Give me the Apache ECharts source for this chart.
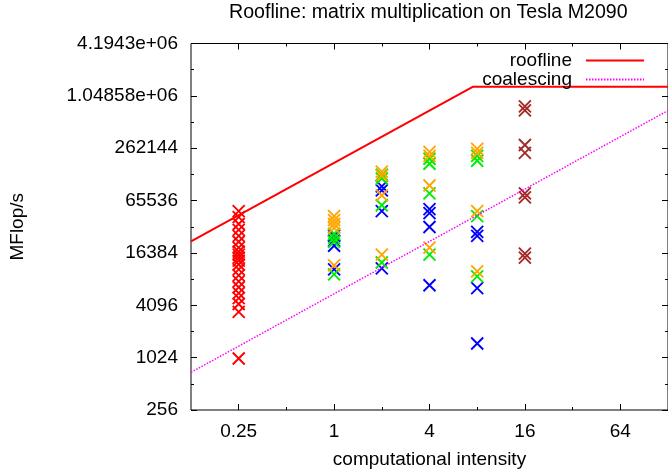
<!DOCTYPE html>
<html><head><meta charset="utf-8">
<script src="https://cdn.jsdelivr.net/npm/echarts@6/dist/echarts.min.js"></script>
<style>html,body{margin:0;padding:0;background:#fff}#c{width:668px;height:474px}</style>
</head><body><div id="c"></div>
<script>
// ---- tick definitions ----
const xTickValues = [0.25, 1, 4, 16, 64];
const xTickLabels = ['0.25', '1', '4', '16', '64'];
const xMinorValues = [0.5, 2, 8, 32];
const yTickValues = [256, 1024, 4096, 16384, 65536, 262144, 1048576, 4194304];
const yTickLabels = ['256', '1024', '4096', '16384', '65536', '262144', '1.04858e+06', '4.1943e+06'];
const yMinorValues = [512, 2048, 8192, 32768, 131072, 524288, 2097152];
const xRange = [0.125, 128];
const yRange = [256, 4194304];

// ---- lines ----
const roofline = [[0.125, 22200], [7.494, 1331000], [128, 1331000]];
const coalescing = [[0.125, 693.75], [128, 710400]];

// ---- measured points [intensity, MFlop/s] ----
const redPts = [[0.25, 49500], [0.25, 42340], [0.25, 35260], [0.25, 30130], [0.25, 25770], [0.25, 22020],
  [0.25, 18820], [0.25, 16950], [0.25, 15670], [0.25, 14490], [0.25, 13390], [0.25, 12060], [0.25, 10590],
  [0.25, 9050], [0.25, 7730], [0.25, 6610], [0.25, 5650], [0.25, 4957], [0.25, 4237], [0.25, 3437], [0.25, 1000]];
const bluePts = [[1, 25770], [1, 22600], [1, 19830], [1, 10590],
  [2, 95300], [2, 85830], [2, 49540], [2, 10870],
  [4, 52200], [4, 47020], [4, 32590], [4, 6965],
  [8, 28610], [8, 25770], [8, 6443], [8, 1489]];
const greenPts = [[1, 27150], [1, 24440], [1, 22020], [1, 9290],
  [2, 130300], [2, 117500], [2, 57970], [2, 12710],
  [4, 198200], [4, 173900], [4, 79300], [4, 15670],
  [8, 214300], [8, 188100], [8, 43480], [8, 8815]];
const orangePts = [[1, 43480], [1, 39100], [1, 35260], [1, 31770], [1, 11760],
  [2, 141000], [2, 127100], [2, 75300], [2, 15670],
  [4, 237900], [4, 214300], [4, 97770], [4, 18820],
  [8, 257400], [8, 231900], [8, 49540], [8, 10045]];
const brownPts = [[16, 792700], [16, 714000], [16, 285700], [16, 231900], [16, 79300], [16, 71430], [16, 16090], [16, 14490]];

const L2 = v => Math.log2(v);
const tr = pts => pts.map(p => [L2(p[0]), L2(p[1])]);
const FONT = '"Liberation Sans", Arial, Helvetica, sans-serif';
const lookup = (vals, labels) => v => {
  for (let i = 0; i < vals.length; i++) if (Math.abs(L2(vals[i]) - v) < 1e-6) return labels[i];
  return '';
};

function xAxisDef(pos, values, len, labels, name) {
  return {
    type: 'value', position: pos, min: L2(xRange[0]), max: L2(xRange[1]),
    axisLine: { show: false, onZero: false },
    axisTick: { show: true, inside: true, length: len, customValues: values.map(L2), lineStyle: { color: '#000', width: 1 } },
    axisLabel: labels ? { show: true, customValues: values.map(L2), formatter: lookup(values, labels), margin: 12, color: '#000', fontSize: 19, fontFamily: FONT } : { show: false },
    splitLine: { show: false },
    name: name || '', nameLocation: 'middle', nameGap: 40,
    nameTextStyle: { color: '#000', fontSize: 19, fontFamily: FONT }
  };
}
function yAxisDef(pos, values, len, labels, name) {
  return {
    type: 'value', position: pos, min: L2(yRange[0]), max: L2(yRange[1]),
    axisLine: { show: false, onZero: false },
    axisTick: { show: true, inside: true, length: len, customValues: values.map(L2), lineStyle: { color: '#000', width: 1 } },
    axisLabel: labels ? { show: true, customValues: values.map(L2), formatter: lookup(values, labels), margin: 13, color: '#000', fontSize: 19, fontFamily: FONT } : { show: false },
    splitLine: { show: false },
    name: name || '', nameLocation: 'middle', nameGap: 164,
    nameTextStyle: { color: '#000', fontSize: 19, fontFamily: FONT }
  };
}

const xSym = 'path://M0,0L12,12M12,0L0,12';
function pts(name, data, color) {
  return {
    type: 'scatter', name: name, data: tr(data), symbol: xSym, symbolSize: 12, z: 2,
    itemStyle: { color: 'rgba(0,0,0,0)', borderColor: color, borderWidth: 1.9, opacity: 1 },
    emphasis: { disabled: true }
  };
}

const chart = echarts.init(document.getElementById('c'), null, { renderer: 'canvas' });
chart.setOption({
  animation: false,
  backgroundColor: '#fff',
  title: {
    text: 'Roofline: matrix multiplication on Tesla M2090', left: 229, top: 3, padding: 0,
    textStyle: { fontSize: 19.6, fontWeight: 'normal', color: '#000', fontFamily: FONT }
  },
  legend: {
    data: ['roofline', 'coalescing'], orient: 'vertical', align: 'right', right: 23, top: 51,
    itemWidth: 58, itemHeight: 10, itemGap: 0, padding: 0,
    itemStyle: { opacity: 0 },
    textStyle: { fontSize: 19, color: '#000', fontFamily: FONT, padding: [0, 9, 0, 0] }
  },
  grid: { show: true, left: 190.5, top: 43.5, width: 479, height: 371, containLabel: false,
    borderColor: '#000', borderWidth: 1, backgroundColor: 'rgba(0,0,0,0)' },
  xAxis: [
    xAxisDef('bottom', xTickValues, 6, xTickLabels, 'computational intensity'),
    xAxisDef('bottom', xMinorValues, 3),
    xAxisDef('top', xTickValues, 6),
    xAxisDef('top', xMinorValues, 3)
  ],
  yAxis: [
    yAxisDef('left', yTickValues, 6, yTickLabels, 'MFlop/s'),
    yAxisDef('left', yMinorValues, 3),
    yAxisDef('right', yTickValues, 6),
    yAxisDef('right', yMinorValues, 3)
  ],
  series: [
    pts('red', redPts, '#ff0000'),
    pts('blue', bluePts, '#0000ff'),
    pts('green', greenPts, '#00ee00'),
    pts('orange', orangePts, '#ffa500'),
    pts('brown', brownPts, '#a52a2a'),
    { type: 'line', name: 'roofline', data: tr(roofline), symbol: 'none', showSymbol: false, z: 3,
      lineStyle: { color: '#ff0000', width: 2 }, itemStyle: { color: '#ff0000' } },
    { type: 'line', name: 'coalescing', data: tr(coalescing), symbol: 'none', showSymbol: false, z: 3,
      lineStyle: { color: '#ff00ff', width: 1.5, type: [1.5, 1.5] }, itemStyle: { color: '#ff00ff' } }
  ]
});
</script></body></html>
